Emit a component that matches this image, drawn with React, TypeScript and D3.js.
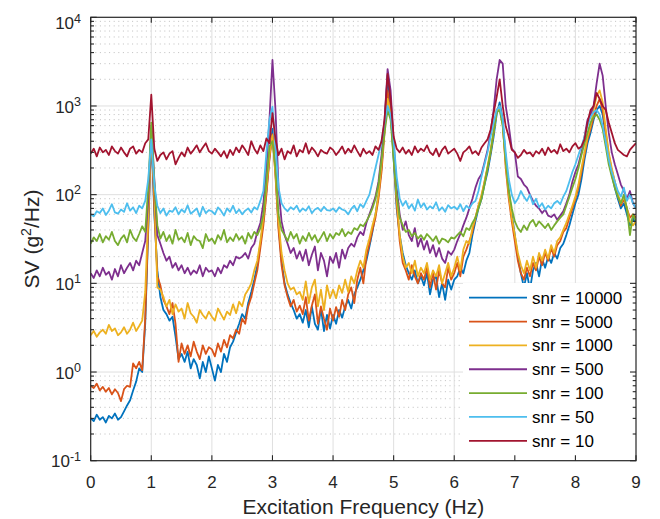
import React, { useEffect, useRef } from 'react';
import * as d3 from 'd3';

// frequency bins, 0 to 9 Hz every 0.05 Hz
const freq = d3.range(181).map(i => +(i * 0.05).toFixed(2));

const snr10000 = [
  0.30, 0.28, 0.33, 0.29, 0.31, 0.27, 0.32, 0.30, 0.34, 0.29,
  0.31, 0.36, 0.42, 0.48, 0.62, 0.78, 1.10, 1.00, 3.5, 40,
  520, 60, 14, 7, 5, 4.5, 3.8, 4.2, 2.5, 1.4,
  1.6, 1.3, 1.7, 1.1, 1.4, 1.2, 0.85, 1.3, 1.0, 1.5,
  1.1, 0.8, 1.2, 1.0, 1.6, 1.3, 1.9, 2.2, 2.8, 3.5,
  4.5, 4.0, 6.0, 8.0, 11, 16, 28, 50, 110, 260,
  550, 180, 45, 18, 10, 7.5, 6.0, 5.0, 4.0, 4.5,
  3.6, 5.0, 3.2, 5.5, 3.5, 3.0, 5.2, 2.9, 4.4, 3.1,
  4.4, 3.5, 5.0, 4.1, 5.5, 6.5, 5.2, 7.5, 9.0, 11,
  14, 18, 26, 38, 60, 100, 200, 600, 2200, 900,
  250, 70, 35, 22, 16, 13, 11, 14, 10, 12,
  9.5, 13, 7.5, 11, 12, 7.0, 10, 6.5, 11, 8.5,
  11, 12, 15, 13, 18, 22, 35, 50, 70, 90,
  130, 180, 280, 450, 800, 1100, 700, 250, 110, 60,
  35, 20, 13, 9, 13, 8.5, 14, 17, 12, 19,
  15, 20, 17, 22, 19, 25, 28, 35, 45, 60,
  80, 100, 150, 250, 380, 500, 700, 900, 1000, 800,
  450, 250, 170, 120, 90, 70, 80, 60, 45, 55,
  45,
];

const snr5000 = [
  0.70, 0.66, 0.74, 0.62, 0.68, 0.60, 0.66, 0.56, 0.64, 0.58,
  0.47, 0.64, 0.70, 0.68, 1.25, 1.10, 1.30, 1.05, 4.0, 45,
  560, 70, 12, 9.5, 6.5, 5.5, 4.5, 6.0, 3.5, 1.3,
  2.1, 1.6, 2.0, 1.5, 2.2, 1.7, 1.4, 2.0, 1.6, 1.9,
  1.8, 1.5, 2.1, 1.7, 2.3, 1.9, 2.6, 2.4, 3.0, 2.7,
  4.0, 3.5, 5.5, 7.0, 10, 14, 25, 45, 100, 250,
  480, 160, 40, 16, 9.5, 7.0, 5.5, 6.5, 4.8, 5.6,
  4.5, 7.0, 3.8, 5.6, 7.5, 3.5, 5.5, 4.0, 3.0, 5.2,
  3.8, 5.4, 4.2, 6.5, 5.0, 7.5, 9.0, 6.0, 11, 15,
  10, 20, 28, 40, 55, 90, 180, 500, 1500, 800,
  280, 80, 30, 17, 14, 11, 16, 12, 10, 13,
  11, 15, 9, 13, 8.5, 14, 10, 9, 15, 11,
  13, 17, 12, 20, 24, 30, 38, 55, 75, 95,
  140, 200, 300, 500, 900, 1000, 650, 200, 90, 50,
  30, 18, 13, 11, 15, 12, 17, 14, 20, 16,
  22, 18, 25, 20, 27, 30, 38, 42, 55, 70,
  90, 120, 180, 280, 420, 550, 750, 1000, 1200, 900,
  500, 280, 190, 140, 100, 75, 90, 70, 55, 60,
  55,
];

const snr1000 = [
  2.6, 2.9, 2.5, 2.8, 3.0, 2.7, 3.4, 2.9, 3.1, 2.6,
  2.8, 3.2, 2.7, 3.0, 3.6, 2.9, 3.3, 3.8, 8, 60,
  500, 110, 9.0, 8.5, 7.0, 5.5, 6.5, 4.5, 5.8, 4.8,
  5.2, 4.0, 6.0, 4.6, 4.2, 3.6, 5.0, 4.4, 4.0, 4.8,
  4.2, 3.8, 5.2, 4.5, 3.9, 4.8, 4.4, 5.8, 4.6, 6.2,
  5.5, 7.5, 8.5, 10, 14, 18, 30, 55, 120, 280,
  470, 170, 50, 22, 14, 10, 8.5, 9.0, 7.5, 8.0,
  6.5, 10.5, 6.0, 9.0, 11, 5.5, 8.5, 5.0, 9.5, 6.8,
  8.5, 6.8, 9.5, 7.8, 11, 8.0, 12, 10, 14, 18,
  15, 24, 32, 45, 60, 100, 220, 550, 1200, 850,
  300, 90, 35, 20, 15, 17, 13, 18, 12, 15,
  13, 17, 11, 14, 12, 16, 10, 13, 17, 12,
  15, 20, 14, 24, 30, 28, 42, 55, 75, 100,
  140, 210, 320, 520, 850, 950, 600, 220, 100, 55,
  35, 22, 16, 13, 18, 14, 20, 15, 22, 18,
  24, 19, 27, 22, 30, 33, 40, 48, 60, 75,
  95, 130, 200, 300, 450, 600, 900, 1300, 1500, 1100,
  550, 300, 200, 140, 100, 80, 95, 70, 50, 45,
  50,
];

const snr500 = [
  13, 11.5, 14, 12, 15, 12.5, 13.5, 11, 14.5, 12,
  16, 13, 15, 17, 14, 18, 16, 22, 30, 90,
  600, 150, 35, 28, 22, 18, 20, 15, 17, 14,
  16, 13, 15, 12.5, 14, 13, 16, 12, 15, 13.5,
  14, 12, 15, 13, 16, 15, 18, 16, 20, 19,
  20, 22, 19, 25, 28, 38, 48, 80, 200, 700,
  3300, 900, 120, 50, 35, 28, 22, 25, 19, 23,
  18, 24, 16, 21, 26, 14, 22, 18, 12, 20,
  17, 22, 15, 24, 19, 25, 28, 26, 33, 38,
  35, 48, 60, 75, 95, 140, 280, 700, 2600, 1500,
  400, 120, 60, 40, 50, 35, 30, 42, 26, 32,
  24, 30, 22, 27, 20, 25, 19, 17, 23, 21,
  24, 30, 36, 45, 55, 70, 90, 120, 150, 170,
  230, 320, 500, 900, 2000, 3300, 3000, 1000, 600, 330,
  300, 160, 150, 130, 120, 100, 85, 75, 70, 62,
  68, 58, 56, 60, 52, 58, 65, 80, 100, 140,
  180, 220, 300, 450, 700, 800, 1000, 1800, 3000, 2200,
  1000, 500, 300, 220, 170, 130, 110, 90, 110, 80,
  70,
];

const snr100 = [
  28, 33, 30, 36, 29, 34, 31, 38, 30, 27,
  32, 35, 29, 40, 33, 30, 36, 44, 38, 120,
  650, 140, 45, 32, 38, 30, 35, 28, 40, 31,
  33, 29, 37, 27, 34, 31, 30, 25, 36, 30,
  32, 28, 35, 31, 40, 29, 33, 30, 36, 31,
  34, 28, 37, 32, 38, 35, 42, 60, 140, 350,
  400, 200, 60, 40, 35, 30, 38, 32, 36, 28,
  34, 30, 37, 31, 35, 29, 33, 38, 30, 36,
  32, 37, 35, 41, 34, 38, 36, 42, 40, 46,
  44, 50, 58, 70, 90, 130, 250, 500, 900, 700,
  250, 100, 55, 45, 38, 40, 34, 37, 32, 35,
  31, 36, 33, 30, 34, 28, 32, 31, 29, 33,
  32, 35, 38, 34, 42, 40, 48, 55, 70, 90,
  130, 200, 300, 500, 850, 900, 600, 240, 110, 70,
  50, 42, 38, 45, 40, 48, 52, 44, 50, 46,
  42, 47, 40, 45, 50, 55, 60, 75, 95, 120,
  150, 200, 280, 380, 500, 650, 750, 800, 700, 550,
  350, 220, 160, 120, 95, 80, 100, 70, 35, 60,
  50,
];

const snr50 = [
  60, 57, 65, 62, 70, 59, 66, 78, 63, 61,
  68, 64, 80, 66, 72, 62, 75, 70, 85, 150,
  420, 130, 75, 62, 70, 58, 66, 64, 72, 60,
  68, 63, 76, 61, 65, 70, 57, 73, 62, 67,
  65, 60, 72, 66, 58, 70, 64, 75, 62, 68,
  60, 66, 70, 63, 72, 68, 85, 110, 300, 700,
  980, 350, 120, 80, 70, 65, 72, 68, 75, 64,
  70, 66, 74, 62, 68, 71, 65, 73, 67, 66,
  70, 64, 72, 68, 66, 60, 69, 75, 65, 78,
  72, 85, 100, 140, 200, 280, 400, 650, 1000, 800,
  400, 160, 90, 75, 85, 70, 78, 66, 88, 72,
  80, 68, 74, 70, 82, 66, 72, 64, 76, 70,
  73, 68, 78, 65, 75, 70, 80, 85, 110, 160,
  220, 300, 450, 650, 900, 1000, 700, 300, 150, 100,
  80, 90, 110, 95, 85, 100, 78, 90, 72, 80,
  68, 75, 70, 80, 85, 78, 95, 110, 140, 180,
  220, 280, 350, 450, 600, 750, 850, 900, 800, 600,
  400, 250, 180, 140, 110, 95, 120, 85, 100, 80,
  70,
];

const snr10 = [
  290, 330, 270, 340, 300, 320, 280, 350, 310, 290,
  340, 300, 270, 330, 350, 290, 320, 300, 380, 420,
  1340, 330, 240, 280, 300, 250, 290, 310, 220, 260,
  300, 270, 340, 290, 320, 360, 300, 340, 380, 310,
  290, 330, 300, 270, 310, 260, 320, 280, 340, 300,
  360, 320, 280, 400, 330, 290, 360, 310, 430, 380,
  830, 420, 280, 330, 250, 310, 290, 360, 270, 320,
  300, 380, 290, 340, 310, 270, 320, 300, 290, 340,
  320, 280, 310, 350, 290, 330, 300, 360, 310, 270,
  330, 290, 310, 280, 350, 320, 400, 700, 2300, 1200,
  450, 330, 300, 340, 290, 320, 280, 350, 300, 330,
  310, 360, 300, 280, 330, 270, 320, 350, 290, 310,
  330, 290, 240, 300, 320, 350, 290, 310, 280, 340,
  380, 420, 540, 830, 1260, 2000, 1000, 590, 450, 320,
  300, 260, 280, 320, 290, 300, 270, 310, 290, 330,
  280, 340, 300, 320, 290, 370, 310, 330, 300, 350,
  380, 330, 350, 420, 650, 900, 1000, 1400, 1200, 1000,
  900, 650, 500, 380, 320, 300, 280, 270, 320, 350,
  380,
];

const seriesValues = [snr10000, snr5000, snr1000, snr500, snr100, snr50, snr10];
const seriesNames = ['snr = 10000', 'snr = 5000', 'snr = 1000', 'snr = 500', 'snr = 100', 'snr = 50', 'snr = 10'];
const seriesColors = ['#0072BD', '#D95319', '#EDB120', '#7E2F8E', '#77AC30', '#4DBEEE', '#A2142F'];

const xTicks = [0, 1, 2, 3, 4, 5, 6, 7, 8, 9];
const yTicks = [0.1, 1, 10, 100, 1000, 10000];
const yTickExps = ['-1', '0', '1', '2', '3', '4'];

const FONT = '"Liberation Sans", Arial, Helvetica, sans-serif';
const AXIS = '#262626';

const App = () => {
  const svgRef = useRef<SVGSVGElement>(null);

  useEffect(() => {
    if (!svgRef.current) return;
    document.body.style.margin = '0';

    const svg = d3.select(svgRef.current);
    svg.selectAll('*').remove();

    const x = d3.scaleLinear().domain([0, 9]).range([90.7, 636]);
    const y = d3.scaleLog().domain([0.1, 10000]).range([460.7, 17.3]);
    const [xl, xr] = x.range();
    const [yb, yt] = y.range();

    // minor y values (2..9 in each decade)
    const minorY: number[] = [];
    yTicks.slice(0, -1).forEach(d => {
      for (let k = 2; k <= 9; k++) minorY.push(k * d);
    });

    // grid
    const grid = svg.append('g');
    grid.selectAll('line.minor')
      .data(minorY)
      .join('line')
      .attr('class', 'minor')
      .attr('x1', xl).attr('x2', xr)
      .attr('y1', d => y(d)).attr('y2', d => y(d))
      .attr('stroke', '#b8b8b8')
      .attr('stroke-width', 0.9)
      .attr('stroke-dasharray', '1,3.6');
    grid.selectAll('line.vx')
      .data(xTicks.slice(1, -1))
      .join('line')
      .attr('class', 'vx')
      .attr('x1', d => x(d)).attr('x2', d => x(d))
      .attr('y1', yb).attr('y2', yt)
      .attr('stroke', '#dfdfdf')
      .attr('stroke-width', 1);
    grid.selectAll('line.hy')
      .data(yTicks.slice(1, -1))
      .join('line')
      .attr('class', 'hy')
      .attr('x1', xl).attr('x2', xr)
      .attr('y1', d => y(d)).attr('y2', d => y(d))
      .attr('stroke', '#dfdfdf')
      .attr('stroke-width', 1);

    // clip to the axes box
    svg.append('clipPath').attr('id', 'plotclip')
      .append('rect')
      .attr('x', xl).attr('y', yt)
      .attr('width', xr - xl).attr('height', yb - yt);

    const line = d3.line<number>()
      .x((_, i) => x(freq[i]))
      .y(d => y(d));

    svg.append('g')
      .attr('clip-path', 'url(#plotclip)')
      .selectAll('path')
      .data(seriesValues)
      .join('path')
      .attr('d', d => line(d))
      .attr('fill', 'none')
      .attr('stroke', (_, i) => seriesColors[i])
      .attr('stroke-width', 1.8)
      .attr('stroke-linejoin', 'round');

    // legend (white box, no edge)
    const lg = svg.append('g');
    lg.append('rect')
      .attr('x', 463).attr('y', 283)
      .attr('width', 173).attr('height', 177)
      .attr('fill', 'white');
    const rows = lg.selectAll('g.row')
      .data(seriesNames)
      .join('g')
      .attr('class', 'row')
      .attr('transform', (_, i) => `translate(0, ${297.7 + i * 23.85})`);
    rows.append('line')
      .attr('x1', 469).attr('x2', 527)
      .attr('stroke', (_, i) => seriesColors[i])
      .attr('stroke-width', 1.8);
    rows.append('text')
      .attr('x', 532).attr('y', 6)
      .attr('font-family', FONT)
      .attr('font-size', 17)
      .attr('fill', '#000')
      .text(d => d);

    // axes box
    svg.append('rect')
      .attr('x', xl).attr('y', yt)
      .attr('width', xr - xl).attr('height', yb - yt)
      .attr('fill', 'none')
      .attr('stroke', AXIS)
      .attr('stroke-width', 1.2);

    const ticks = svg.append('g').attr('stroke', AXIS).attr('stroke-width', 1.1);
    xTicks.forEach(t => {
      ticks.append('line').attr('x1', x(t)).attr('x2', x(t)).attr('y1', yb).attr('y2', yb - 5.5);
      ticks.append('line').attr('x1', x(t)).attr('x2', x(t)).attr('y1', yt).attr('y2', yt + 5.5);
    });
    yTicks.forEach(t => {
      ticks.append('line').attr('x1', xl).attr('x2', xl + 6).attr('y1', y(t)).attr('y2', y(t));
      ticks.append('line').attr('x1', xr).attr('x2', xr - 6).attr('y1', y(t)).attr('y2', y(t));
    });
    minorY.forEach(t => {
      ticks.append('line').attr('x1', xl).attr('x2', xl + 3.3).attr('y1', y(t)).attr('y2', y(t));
      ticks.append('line').attr('x1', xr).attr('x2', xr - 3.3).attr('y1', y(t)).attr('y2', y(t));
    });

    // tick labels
    svg.append('g')
      .selectAll('text')
      .data(xTicks)
      .join('text')
      .attr('x', d => x(d))
      .attr('y', 488)
      .attr('text-anchor', 'middle')
      .attr('font-family', FONT)
      .attr('font-size', 17)
      .attr('fill', AXIS)
      .text(d => d);

    const yl = svg.append('g')
      .selectAll('text')
      .data(yTicks)
      .join('text')
      .attr('x', 81)
      .attr('y', d => Math.max(y(d) + 6.6, 29.3))
      .attr('text-anchor', 'end')
      .attr('font-family', FONT)
      .attr('font-size', 17)
      .attr('fill', AXIS);
    yl.append('tspan').text('10');
    yl.append('tspan')
      .attr('dy', -6.8)
      .attr('font-size', 12.5)
      .text((_, i) => yTickExps[i]);

    // axis labels
    svg.append('text')
      .attr('x', (xl + xr) / 2)
      .attr('y', 514)
      .attr('text-anchor', 'middle')
      .attr('font-family', FONT)
      .attr('font-size', 21)
      .attr('fill', AXIS)
      .text('Excitation Frequency (Hz)');

    const ylab = svg.append('text')
      .attr('transform', `translate(39.3, ${(yt + yb) / 2}) rotate(-90)`)
      .attr('text-anchor', 'middle')
      .attr('font-family', FONT)
      .attr('font-size', 21)
      .attr('fill', AXIS);
    ylab.append('tspan').text('SV (g');
    ylab.append('tspan').attr('dy', -8).attr('font-size', 14).text('2');
    ylab.append('tspan').attr('dy', 8).text('/Hz)');
  }, []);

  return <svg ref={svgRef} width={660} height={519} style={{ display: 'block' }} />;
};

export default App;
